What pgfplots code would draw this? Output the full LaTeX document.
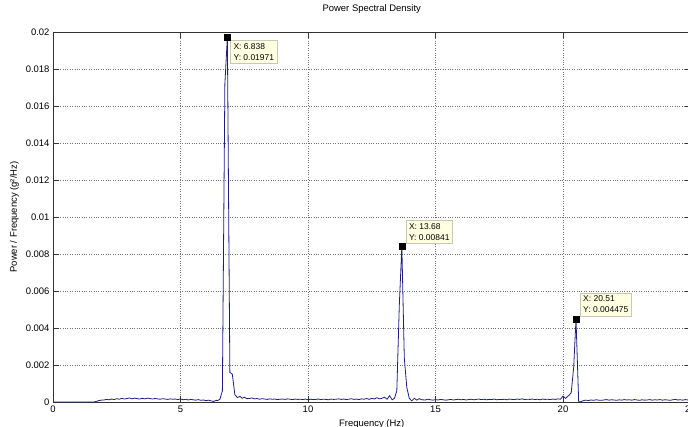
\documentclass[border=0pt]{standalone}
\usepackage{fontspec}
\setmainfont{Liberation Sans}
\usepackage{pgfplots}
\pgfplotsset{compat=1.18}

\definecolor{psdline}{RGB}{30,30,130}
\definecolor{tipfill}{RGB}{255,255,225}
\definecolor{tipdraw}{RGB}{200,200,180}

\begin{document}
\begin{tikzpicture}
\useasboundingbox (0,0) rectangle (688bp,427bp);
\begin{axis}[
  at={(53bp,25bp)}, anchor=south west,
  scale only axis, width=637.5bp, height=370bp,
  xmin=0, xmax=25, ymin=0, ymax=0.02,
  xtick={0,5,10,15,20,25},
  ytick={0,0.002,0.004,0.006,0.008,0.01,0.012,0.014,0.016,0.018,0.02},
  scaled y ticks=false,
  yticklabel style={/pgf/number format/fixed,/pgf/number format/precision=3},
  /pgf/number format/assume math mode=true,
  tick align=inside, major tick length=6bp,
  tick style={black!80, line width=0.5bp},
  axis line style={black!80, line width=0.6bp},
  grid=major, major grid style={black!55, dotted, line width=0.5bp},
  font=\fontsize{9.5}{11}\selectfont,
  title={Power Spectral Density},
  title style={yshift=9bp},
  xlabel={Frequency (Hz)},
  ylabel={Power / Frequency (g²/Hz)},
  xlabel style={yshift=-1bp},
  clip=false,
]
\addplot[psdline, line width=0.8bp] coordinates {
(0,0) (0.5,0) (1.0,0) (1.6,0) (1.7,0.00003) (1.8,0.00008) (1.9,0.0001)
(2.0,0.00011) (2.1,0.00014) (2.2,0.00012) (2.3,0.00016) (2.4,0.00013)
(2.5,0.00018) (2.6,0.00015) (2.7,0.0002) (2.8,0.00016) (2.9,0.00019)
(3.0,0.00022) (3.1,0.00017) (3.2,0.00021) (3.3,0.00018) (3.4,0.00016)
(3.5,0.0002) (3.6,0.00017) (3.7,0.00021) (3.8,0.00019) (3.9,0.00016)
(4.0,0.00019) (4.1,0.00017) (4.2,0.00015) (4.3,0.00018) (4.4,0.00016)
(4.5,0.00014) (4.6,0.00017) (4.7,0.00015) (4.8,0.00016) (4.9,0.00013)
(5.0,0.00017) (5.1,0.00012) (5.2,0.00015) (5.3,0.00011) (5.4,0.00014)
(5.5,0.00012) (5.6,0.0001) (5.7,0.00013) (5.8,0.00009) (5.9,0.00011)
(6.0,0.00007) (6.1,0.0001) (6.2,0.00006) (6.3,0.00003) (6.4,0.00009)
(6.46,0.00008) (6.545,0.00015) (6.642,0.0006) (6.74,0.0172) (6.838,0.01971)
(6.936,0.0016) (7.033,0.0015) (7.131,0.0004) (7.229,0.00024) (7.33,0.0003)
(7.42,0.0002) (7.5,0.00026) (7.6,0.00018) (7.7,0.00019) (7.8,0.00022)
(7.9,0.00017) (8.0,0.00019) (8.1,0.00015) (8.2,0.00018) (8.3,0.00016)
(8.4,0.00014) (8.5,0.00017) (8.6,0.00015) (8.7,0.00016) (8.8,0.00013)
(8.9,0.00015) (9.0,0.00016) (9.1,0.00014) (9.2,0.00017) (9.3,0.00015)
(9.4,0.00013) (9.5,0.00016) (9.6,0.00014) (9.7,0.00015) (9.8,0.00013)
(9.9,0.00016) (10.0,0.00012) (10.1,0.00015) (10.2,0.00013) (10.3,0.00014)
(10.4,0.00016) (10.5,0.00013) (10.6,0.00015) (10.7,0.00014) (10.8,0.00012)
(10.9,0.00016) (11.0,0.00014) (11.1,0.00015) (11.2,0.00017) (11.3,0.00014)
(11.4,0.00016) (11.5,0.00013) (11.6,0.00015) (11.7,0.00018) (11.8,0.00014)
(11.9,0.00016) (12.0,0.00013) (12.1,0.00017) (12.2,0.00015) (12.3,0.00019)
(12.4,0.00014) (12.5,0.0002) (12.6,0.00016) (12.7,0.00023) (12.8,0.00017)
(12.9,0.0002) (13.0,0.00026) (13.1,0.00015) (13.2,0.00034) (13.3,0.00012)
(13.39,0.0002) (13.483,0.0006) (13.58,0.0052) (13.68,0.00841) (13.776,0.0024)
(13.873,0.0008) (13.971,0.0002) (14.07,0.00006) (14.17,0.0002) (14.27,0.0001)
(14.36,0.00018) (14.46,0.00012) (14.6,0.00011) (14.7,0.00015) (14.8,0.00012)
(14.9,0.0001) (15.0,0.00013) (15.1,0.00011) (15.2,0.00014) (15.3,0.00012)
(15.4,0.0001) (15.5,0.00012) (15.6,0.00014) (15.7,0.00011) (15.8,0.00013)
(15.9,0.00015) (16.0,0.00012) (16.1,0.00014) (16.2,0.00011) (16.3,0.00013)
(16.4,0.00015) (16.5,0.00012) (16.6,0.00014) (16.7,0.00016) (16.8,0.00013)
(16.9,0.00015) (17.0,0.00012) (17.1,0.00014) (17.2,0.00013) (17.3,0.00016)
(17.4,0.00012) (17.5,0.00014) (17.6,0.00013) (17.7,0.00015) (17.8,0.00012)
(17.9,0.00016) (18.0,0.00014) (18.1,0.00013) (18.2,0.00016) (18.3,0.00014)
(18.4,0.00017) (18.5,0.00013) (18.6,0.00015) (18.7,0.00014) (18.8,0.00016)
(18.9,0.00013) (19.0,0.00015) (19.1,0.00012) (19.2,0.00016) (19.3,0.00014)
(19.4,0.00015) (19.5,0.00013) (19.6,0.00016) (19.7,0.00014) (19.8,0.00017)
(19.9,0.00015) (20.0,0.00032) (20.1,0.0002) (20.224,0.00035) (20.322,0.0005)
(20.42,0.0019) (20.51,0.004475) (20.615,0) (20.712,0.00002) (20.81,0.00008)
(20.9,0.0001) (21.0,0.00008) (21.1,0.00011) (21.2,0.00009) (21.3,0.00012)
(21.4,0.0001) (21.5,0.00009) (21.6,0.00011) (21.7,0.00013) (21.8,0.0001)
(21.9,0.00012) (22.0,0.00011) (22.1,0.00009) (22.2,0.00012) (22.3,0.0001)
(22.4,0.00013) (22.5,0.00011) (22.6,0.00012) (22.7,0.0001) (22.8,0.00013)
(22.9,0.00011) (23.0,0.00009) (23.1,0.00012) (23.2,0.0001) (23.3,0.00011)
(23.4,0.00013) (23.5,0.0001) (23.6,0.00012) (23.7,0.00011) (23.8,0.00013)
(23.9,0.0001) (24.0,0.00012) (24.1,0.00011) (24.2,0.00009) (24.3,0.00012)
(24.4,0.00014) (24.5,0.00011) (24.6,0.00012) (24.7,0.0001) (24.8,0.00013)
(24.9,0.00011) (25.0,0.0001)
};
\addplot[only marks, mark=square*, mark size=3bp, black] coordinates {
(6.838,0.01971) (13.68,0.00841) (20.51,0.004475)
};
\node[anchor=north west, fill=tipfill, draw=tipdraw, align=left, inner sep=3bp,
  font=\fontsize{8.5}{11}\selectfont, xshift=3bp, yshift=-3bp]
  at (axis cs:6.838,0.01971) {X: 6.838\\Y: 0.01971};
\node[anchor=south west, fill=tipfill, draw=tipdraw, align=left, inner sep=3bp,
  font=\fontsize{8.5}{11}\selectfont, xshift=4bp, yshift=3bp]
  at (axis cs:13.68,0.00841) {X: 13.68\\Y: 0.00841};
\node[anchor=south west, fill=tipfill, draw=tipdraw, align=left, inner sep=3bp,
  font=\fontsize{8.5}{11}\selectfont, xshift=4bp, yshift=3bp]
  at (axis cs:20.51,0.004475) {X: 20.51\\Y: 0.004475};
\end{axis}
\end{tikzpicture}
\end{document}
